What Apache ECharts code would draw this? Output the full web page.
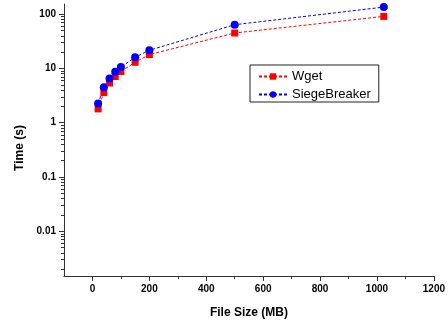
<!DOCTYPE html>
<html>
<head>
<meta charset="utf-8">
<script src="https://cdn.jsdelivr.net/npm/echarts@6/dist/echarts.min.js"></script>
<style>
  html, body { margin: 0; padding: 0; background: #fff; }
  #chart { width: 448px; height: 324px; }
</style>
</head>
<body>
<div id="chart"></div>
<script>
// file sizes in MB
const fileSizes = [20, 40, 60, 80, 100, 150, 200, 500, 1024];
// download times in seconds
const wgetTimes = [1.8, 3.6, 5.4, 7.1, 8.8, 13, 18, 45, 91];
const siegeTimes = [2.25, 4.5, 6.5, 8.7, 10.6, 16.1, 21.6, 64, 135];

const xTickValues = [0, 200, 400, 600, 800, 1000, 1200];
const xMinorTicks = [100, 300, 500, 700, 900, 1100];
const yTickValues = [0.01, 0.1, 1, 10, 100];
const yTickLabels = ['0.01', '0.1', '1', '10', '100'];

const Y_MIN = 0.0015;
const Y_MAX = 154;

// minor log ticks 2..9 in every decade inside the range
const yMinorTicks = [];
for (let p = -3; p <= 2; p++) {
  for (let k = 2; k <= 9; k++) {
    const v = +(k * Math.pow(10, p)).toPrecision(3);
    if (v > Y_MIN && v < Y_MAX) yMinorTicks.push(v);
  }
}

const FONT = '"Liberation Sans", Arial, sans-serif';
const AXIS_COLOR = '#333';

const chart = echarts.init(document.getElementById('chart'), null, { renderer: 'canvas' });

const labelStyle = { color: '#000', fontFamily: FONT, fontWeight: 'bold', fontSize: 10 };

const option = {
  animation: false,
  backgroundColor: '#fff',
  grid: { left: 64, top: 4, right: 12, bottom: 46 },
  legend: {
    left: 250,
    top: 65,
    orient: 'vertical',
    borderColor: '#222',
    borderWidth: 1,
    padding: [5, 8, 1, 8],
    itemWidth: 28,
    itemHeight: 8,
    itemGap: 5,
    textStyle: { fontFamily: FONT, fontSize: 13, color: '#000', lineHeight: 12 },
    data: ['Wget', 'SiegeBreaker'],
  },
  xAxis: [
    {
      type: 'value',
      min: -100,
      max: 1200,
      name: 'File Size (MB)',
      nameLocation: 'middle',
      nameGap: 31,
      nameTextStyle: { fontFamily: FONT, fontWeight: 'bold', fontSize: 12, color: '#000' },
      axisLine: { onZero: false, lineStyle: { color: AXIS_COLOR, width: 1 } },
      axisTick: { customValues: xTickValues, length: 5, lineStyle: { color: AXIS_COLOR } },
      axisLabel: { customValues: xTickValues, margin: 8, ...labelStyle, formatter: (v) => String(v) },
      splitLine: { show: false },
    },
    {
      type: 'value',
      min: -100,
      max: 1200,
      position: 'bottom',
      axisLine: { show: false, onZero: false },
      axisTick: { customValues: xMinorTicks, length: 3, lineStyle: { color: AXIS_COLOR } },
      axisLabel: { show: false },
      splitLine: { show: false },
    },
  ],
  yAxis: [
    {
      type: 'log',
      logBase: 10,
      min: Y_MIN,
      max: Y_MAX,
      name: 'Time (s)',
      nameLocation: 'middle',
      nameGap: 38,
      nameTextStyle: { fontFamily: FONT, fontWeight: 'bold', fontSize: 12, color: '#000', padding: [0, 16, 0, 0] },
      axisLine: { show: true, onZero: false, lineStyle: { color: AXIS_COLOR, width: 1 } },
      axisTick: { customValues: yTickValues, length: 5, lineStyle: { color: AXIS_COLOR } },
      axisLabel: {
        customValues: yTickValues,
        margin: 8,
        ...labelStyle,
        formatter: (v) => {
          const i = yTickValues.findIndex((t) => Math.abs(Math.log10(t) - Math.log10(v)) < 1e-6);
          return i >= 0 ? yTickLabels[i] : '';
        },
      },
      splitLine: { show: false },
    },
    {
      type: 'log',
      logBase: 10,
      min: Y_MIN,
      max: Y_MAX,
      position: 'left',
      axisLine: { show: false, onZero: false },
      axisTick: { customValues: yMinorTicks, length: 3, lineStyle: { color: AXIS_COLOR } },
      axisLabel: { show: false },
      splitLine: { show: false },
    },
  ],
  series: [
    {
      name: 'Wget',
      type: 'line',
      data: fileSizes.map((s, i) => [s, wgetTimes[i]]),
      symbol: 'rect',
      symbolSize: 7,
      color: '#ff0000',
      itemStyle: { color: '#ff0000' },
      lineStyle: { color: '#ff0000', width: 1, type: [3, 2] },
    },
    {
      name: 'SiegeBreaker',
      type: 'line',
      data: fileSizes.map((s, i) => [s, siegeTimes[i]]),
      symbol: 'circle',
      symbolSize: 8,
      color: '#0000ff',
      itemStyle: { color: '#0000ff' },
      lineStyle: { color: '#0000ff', width: 1, type: [3, 2] },
    },
  ],
};

chart.setOption(option);
</script>
</body>
</html>
